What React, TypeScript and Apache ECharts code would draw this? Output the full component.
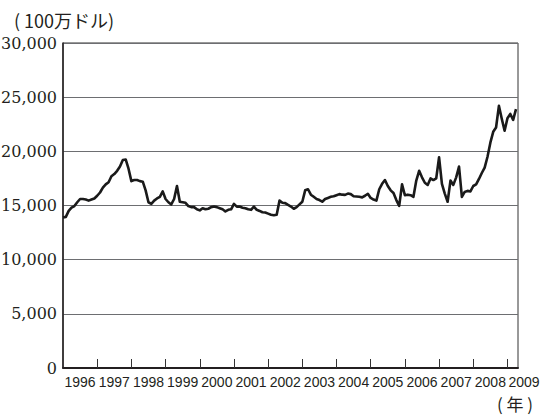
import React, { useEffect, useRef } from "react";
import * as echarts from "echarts";

// Year labels along the x axis (one per year band)
const yearLabels = [
  "1996", "1997", "1998", "1999", "2000", "2001", "2002",
  "2003", "2004", "2005", "2006", "2007", "2008", "2009",
];

// Y axis range / step (100万ドル)
const yMin = 0;
const yMax = 30000;
const yStep = 5000;

// Monthly values from Jan 1996 to Apr 2009 (100万ドル)
const values1996 = [13900, 13950, 14500, 14800, 14950, 15300, 15600, 15600, 15550, 15450, 15550, 15650];
const values1997 = [15900, 16200, 16650, 16950, 17150, 17700, 17900, 18200, 18600, 19200, 19250, 18400];
const values1998 = [17250, 17350, 17350, 17250, 17200, 16400, 15300, 15150, 15450, 15650, 15800, 16300];
const values1999 = [15600, 15300, 15100, 15600, 16800, 15350, 15300, 15250, 14950, 14850, 14850, 14650];
const values2000 = [14550, 14750, 14650, 14700, 14850, 14900, 14850, 14750, 14650, 14450, 14600, 14650];
const values2001 = [15150, 14900, 14900, 14800, 14750, 14650, 14600, 14900, 14600, 14500, 14380, 14350];
const values2002 = [14250, 14150, 14100, 14150, 15450, 15250, 15220, 15050, 14900, 14700, 14850, 15100];
const values2003 = [15350, 16400, 16500, 16000, 15800, 15600, 15500, 15350, 15600, 15700, 15800, 15850];
const values2004 = [15950, 16050, 16000, 15980, 16100, 16050, 15850, 15830, 15800, 15750, 15900, 16080];
const values2005 = [15700, 15550, 15450, 16500, 17000, 17350, 16800, 16400, 16150, 15500, 14970, 16950];
const values2006 = [15950, 16000, 15950, 15800, 17300, 18200, 17600, 17100, 16900, 17500, 17350, 17500];
const values2007 = [19450, 17000, 16100, 15350, 17300, 16900, 17600, 18600, 15800, 16250, 16350, 16300];
const values2008 = [16800, 16950, 17450, 18000, 18500, 19500, 20800, 21800, 22200, 24200, 23000, 21900];
const values2009 = [23050, 23450, 22900, 23900];

const monthlyValues = [
  ...values1996, ...values1997, ...values1998, ...values1999, ...values2000,
  ...values2001, ...values2002, ...values2003, ...values2004, ...values2005,
  ...values2006, ...values2007, ...values2008, ...values2009,
];

// x axis in months since Jan 1996
const xMin = 0;
const xMax = 159.7;
const yearBoundaryMonths = yearLabels.slice(1, 14).map((_, i) => (i + 1) * 12);
const yearLabelMonths = yearLabels.map((_, i) => (i < 13 ? i * 12 + 6 : xMax));

const serifY = "DejaVu Serif";
const fontX = "Liberation Sans";
const jp = "Noto Sans CJK JP";

export default function App() {
  const ref = useRef<HTMLDivElement>(null);

  useEffect(() => {
    if (!ref.current) return;
    const chart = echarts.init(ref.current, null, { renderer: "svg" });
    const textColor = "#231f20";
    chart.setOption({
      animation: false,
      backgroundColor: "#ffffff",
      grid: {
        left: 63,
        right: 28,
        top: 43,
        bottom: 49,
        containLabel: false,
        outerBoundsMode: "none",
        show: true,
        borderColor: "#333333",
        borderWidth: 1,
        backgroundColor: "transparent",
      },
      graphic: [
        {
          type: "text",
          left: 14,
          top: 11,
          style: {
            text: "( 100万ドル)",
            fontFamily: jp,
            fontSize: 18,
            fill: textColor,
          },
        },
        {
          type: "text",
          left: 497,
          top: 395,
          style: {
            text: "( 年 )",
            fontFamily: jp,
            fontSize: 17,
            fill: textColor,
          },
        },
      ],
      xAxis: {
        type: "value",
        min: xMin,
        max: xMax,
        axisLine: { show: true, lineStyle: { color: "#231f20", width: 2 } },
        splitLine: { show: false },
        axisTick: {
          show: true,
          inside: true,
          length: 9,
          customValues: yearBoundaryMonths,
          lineStyle: { color: "#333333", width: 1 },
        },
        axisLabel: {
          show: true,
          customValues: yearLabelMonths,
          hideOverlap: false,
          margin: 7,
          fontFamily: fontX,
          fontSize: 14,
          color: textColor,
          formatter: (v: number) => {
            const idx = yearLabelMonths.findIndex((m) => Math.abs(m - v) < 0.01);
            if (idx < 0) return "";
            if (idx === 13) return "{e|" + yearLabels[idx] + "}";
            return yearLabels[idx];
          },
          rich: {
            e: {
              fontFamily: fontX,
              fontSize: 14,
              color: textColor,
              padding: [0, 0, 0, 12],
            },
          },
        },
      },
      yAxis: {
        type: "value",
        min: yMin,
        max: yMax,
        interval: yStep,
        axisLine: { show: true, lineStyle: { color: "#231f20", width: 1.5 } },
        axisTick: { show: false },
        splitLine: { show: true, lineStyle: { color: "#6d6e71", width: 1 } },
        axisLabel: {
          margin: 6,
          fontFamily: serifY,
          fontSize: 16,
          color: textColor,
          formatter: (v: number) => v.toLocaleString("en-US"),
        },
      },
      series: [
        {
          type: "line",
          data: monthlyValues.map((v, i) => [i, v]),
          showSymbol: false,
          symbol: "none",
          lineStyle: { color: "#1a1a1a", width: 2.6, join: "round" },
          silent: true,
        },
      ],
    });
    return () => chart.dispose();
  }, []);

  return (
    <div
      ref={ref}
      style={{ position: "fixed", left: 0, top: 0, width: 546, height: 417, background: "#fff" }}
    />
  );
}
